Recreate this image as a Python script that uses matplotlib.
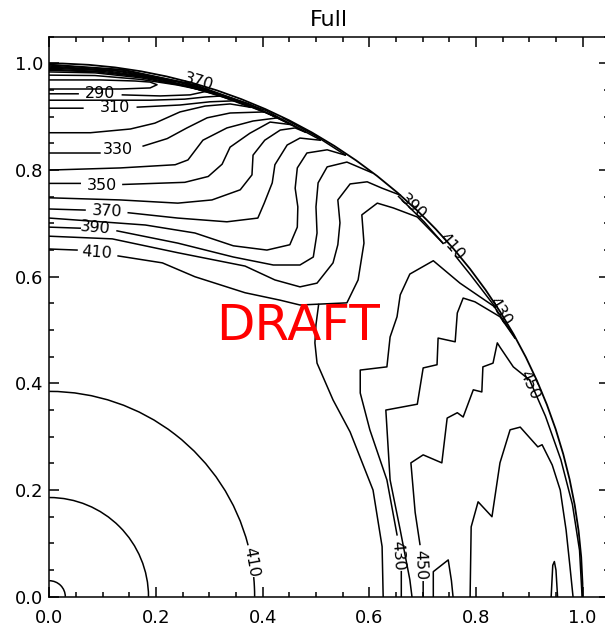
import numpy as np
import matplotlib
matplotlib.use('Agg')
import matplotlib.pyplot as plt
from matplotlib.patches import Arc
from matplotlib.ticker import MultipleLocator, FormatStrFormatter

nan = np.nan

# interior parts of the contour lines (x, y); nan = gap for a label
c280_x = [0, 0.095, 0.161, 0.189, 0.202, 0.189, 0.133, 0.058, 0]
c280_y = [0.969, 0.969, 0.967, 0.965, 0.960, 0.954, 0.952, 0.952, 0.952]
c290_x = [0, 0.054, nan, 0.137, 0.208, 0.264, 0.296]
c290_y = [0.943, 0.943, nan, 0.941, 0.939, 0.941, 0.948]
c300_x = [0, 0.095, 0.189, 0.254, 0.292, 0.324]
c300_y = [0.931, 0.931, 0.931, 0.933, 0.937, 0.939]
c310_x = [0, 0.063, nan, 0.165, 0.245, 0.301, 0.350]
c310_y = [0.916, 0.916, nan, 0.918, 0.922, 0.928, 0.930]
c320_x = [0, 0.077, 0.152, 0.198, 0.245, 0.292, 0.339, 0.376]
c320_y = [0.870, 0.870, 0.877, 0.888, 0.909, 0.920, 0.924, 0.918]
c330_x = [0, 0.095, nan, 0.176, 0.221, 0.258, 0.296, 0.339, 0.403]
c330_y = [0.832, 0.832, nan, 0.845, 0.859, 0.879, 0.898, 0.907, 0.909]
c340_x = [0, 0.133, 0.236, 0.260, 0.288, 0.333, 0.382, 0.429]
c340_y = [0.800, 0.804, 0.810, 0.819, 0.856, 0.879, 0.892, 0.898]
c350_x = [0, 0.058, nan, 0.138, 0.254, 0.298, 0.324, 0.339, 0.376, 0.414, 0.455]
c350_y = [0.775, 0.775, nan, 0.773, 0.777, 0.788, 0.811, 0.843, 0.869, 0.890, 0.885]
c360_x = [0, 0.133, 0.241, 0.305, 0.358, 0.380, 0.382, 0.404, 0.433, 0.461, 0.480]
c360_y = [0.748, 0.744, 0.738, 0.744, 0.763, 0.791, 0.828, 0.856, 0.875, 0.879, 0.871]
c370_x = [0, 0.067, nan, 0.148, 0.241, 0.333, 0.391, 0.403, 0.418, 0.423, 0.446, 0.470, 0.508]
c370_y = [0.727, 0.725, nan, 0.720, 0.710, 0.703, 0.710, 0.738, 0.776, 0.810, 0.847, 0.860, 0.856]
c380_x = [0, 0.180, 0.273, 0.345, 0.408, 0.451, 0.465, 0.466, 0.461, 0.465, 0.483, 0.521, 0.555]
c380_y = [0.710, 0.697, 0.682, 0.658, 0.650, 0.660, 0.693, 0.731, 0.766, 0.804, 0.832, 0.838, 0.828]
c390_x = [0, 0.058, nan, 0.127, 0.241, 0.345, 0.420, 0.470, 0.495, 0.502, 0.500, 0.504, 0.521, 0.558, 0.605]
c390_y = [0.693, 0.691, nan, 0.686, 0.663, 0.637, 0.622, 0.622, 0.637, 0.682, 0.731, 0.776, 0.806, 0.815, 0.795]
c400_x = [0, 0.118, 0.241, 0.367, 0.423, 0.470, 0.502, 0.532, 0.541, 0.545, 0.541, 0.564, 0.596, 0.624, 0.658]
c400_y = [0.676, 0.671, 0.645, 0.620, 0.594, 0.581, 0.588, 0.626, 0.660, 0.701, 0.744, 0.774, 0.778, 0.766, 0.753]
c410_x = [0, 0.052, nan, 0.129, 0.212, 0.273, 0.367, 0.433, 0.470, 0.558, 0.579, 0.590, 0.586, 0.615, 0.645, 0.690, 0.738]
c410_y = [0.652, 0.650, nan, 0.639, 0.626, 0.600, 0.570, 0.556, 0.547, 0.551, 0.594, 0.663, 0.716, 0.738, 0.729, 0.712, 0.663]
# branch of 410 that comes down under the DRAFT text to the axis
c410b_x = [0.626, 0.624, 0.607, 0.564, 0.532, 0.502, 0.498, 0.500, 0.505]
c410b_y = [0, 0.094, 0.200, 0.309, 0.369, 0.438, 0.476, 0.510, 0.548]
c430_x = [0.660, 0.660, nan, 0.652, 0.633, 0.601, 0.583, 0.583, 0.633, 0.639, 0.652, 0.658, 0.676, 0.720, 0.770, 0.808, 0.836]
c430_y = [0, 0.047, nan, 0.116, 0.219, 0.313, 0.382, 0.425, 0.431, 0.487, 0.525, 0.566, 0.605, 0.630, 0.588, 0.562, 0.543]
c440_x = [0.680, 0.676, 0.658, 0.639, 0.631, 0.690, 0.701, 0.727, 0.729, 0.761, 0.765, 0.776, 0.798, 0.845, 0.873]
c440_y = [0, 0.032, 0.125, 0.219, 0.350, 0.361, 0.429, 0.435, 0.485, 0.478, 0.532, 0.560, 0.553, 0.525, 0.485]
c450_x = [0.701, 0.701, nan, 0.695, 0.686, 0.678, 0.701, 0.736, 0.746, 0.765, 0.776, 0.795, 0.811, 0.813, 0.832, 0.840, 0.845, 0.870, 0.901]
c450_y = [0, 0.028, nan, 0.098, 0.158, 0.251, 0.266, 0.251, 0.335, 0.345, 0.337, 0.388, 0.384, 0.431, 0.438, 0.476, 0.468, 0.431, 0.406]
c460_x = [0.789, 0.791, 0.804, 0.830, 0.845, 0.864, 0.883, 0.916, 0.924, 0.943, 0.958, 0.969, 0.976, 0.982]
c460_y = [0, 0.131, 0.178, 0.150, 0.251, 0.313, 0.318, 0.281, 0.285, 0.247, 0.200, 0.125, 0.059, 0]
c460b_x = [0.720, 0.720, 0.748, 0.754, 0.757]
c460b_y = [0, 0.047, 0.069, 0.030, 0]
c470_x = [0.941, 0.944, 0.947, 0.950, 0.953]
c470_y = [0, 0.059, 0.066, 0.050, 0]

# parts that run along the surface: angle (deg) and radius
rim_t = {
    290: [72.7, 76, 80, 85, 90], 300: [71.0, 75, 80, 85, 90], 310: [69.4, 75, 80, 85, 90],
    320: [67.7, 72, 78, 84, 90], 330: [66.1, 72, 78, 84, 90], 340: [64.5, 70, 76, 83, 90],
    350: [62.8, 68, 75, 82, 90], 360: [61.2, 68, 75, 82, 90], 370: [59.4, 66, 74, 82, 90],
    380: [56.2, 60, 64], 410: [41.9, 45, 48.9],
    430: [33.0, 35, 37.4, 40], 440: [29.1, 31, 33], 450: [24.3, 20, 15, 10, 5, 0],
}
rim_r = {
    290: [0.993, 0.989, 0.985, 0.981, 0.978], 300: [0.993, 0.991, 0.988, 0.986, 0.984],
    310: [0.993, 0.992, 0.990, 0.988, 0.987], 320: [0.992, 0.993, 0.992, 0.990, 0.989],
    330: [0.994, 0.994, 0.993, 0.992, 0.991], 340: [0.995, 0.995, 0.995, 0.994, 0.993],
    350: [0.995, 0.996, 0.996, 0.995, 0.995], 360: [0.995, 0.997, 0.997, 0.997, 0.997],
    370: [0.996, 0.998, 0.998, 0.998, 0.998], 380: [0.997, 0.998, 0.999],
    410: [0.992, 0.994, 0.996], 430: [0.997, 0.995, 0.994, 0.994],
    440: [0.999, 0.997, 0.996], 450: [0.988, 0.990, 0.993, 0.996, 0.998, 0.999],
}

# circles round the centre (radius), the 410 one broken for its label
circle_r = [0.030, 0.186]
circle410_r = 0.385

# contour labels: text, x, y, rotation
lab_txt = ['290', '310', '330', '350', '370', '390', '410',
           '370', '390', '410', '430', '450', '410', '430', '450']
lab_x = [0.095, 0.124, 0.129, 0.099, 0.108, 0.086, 0.089,
         0.279, 0.682, 0.755, 0.845, 0.901, 0.379, 0.654, 0.695]
lab_y = [0.943, 0.918, 0.838, 0.772, 0.723, 0.692, 0.645,
         0.966, 0.731, 0.656, 0.534, 0.397, 0.065, 0.076, 0.060]
lab_rot = [0, 0, 0, 0, -3, -5, -4,
           -16, -43, -49, -58, -66, -80, -86, -88]

fig = plt.figure(figsize=(6.05, 6.28), dpi=100)
ax = fig.add_axes([0.0815, 0.0498, 0.9256, 0.8917])

lines = [(c280_x, c280_y), (c290_x, c290_y), (c300_x, c300_y), (c310_x, c310_y),
         (c320_x, c320_y), (c330_x, c330_y), (c340_x, c340_y), (c350_x, c350_y),
         (c360_x, c360_y), (c370_x, c370_y), (c380_x, c380_y), (c390_x, c390_y),
         (c400_x, c400_y), (c410_x, c410_y), (c410b_x, c410b_y), (c430_x, c430_y),
         (c440_x, c440_y), (c450_x, c450_y), (c460_x, c460_y), (c460b_x, c460b_y),
         (c470_x, c470_y)]
for xs, ys in lines:
    ax.plot(xs, ys, color='black', lw=1.1)

for lev in rim_t:
    t = np.radians(rim_t[lev])
    r = np.array(rim_r[lev])
    ax.plot(r * np.cos(t), r * np.sin(t), color='black', lw=1.1)

# surface
ax.add_patch(Arc((0, 0), 2, 2, theta1=0, theta2=90, color='black', lw=1.3))
for r in circle_r:
    ax.add_patch(Arc((0, 0), 2 * r, 2 * r, theta1=0, theta2=90, color='black', lw=1.1))
ax.add_patch(Arc((0, 0), 2 * circle410_r, 2 * circle410_r, theta1=0, theta2=5.5, color='black', lw=1.1))
ax.add_patch(Arc((0, 0), 2 * circle410_r, 2 * circle410_r, theta1=14.5, theta2=90, color='black', lw=1.1))

for t, x, y, rot in zip(lab_txt, lab_x, lab_y, lab_rot):
    ax.text(x, y, t, fontsize=11.5, ha='center', va='center', rotation=rot,
            rotation_mode='anchor')

ax.text(0.467, 0.481, 'DRAFT', color='red', fontsize=36, ha='center', va='baseline', zorder=5)

ax.set_xlim(0, 1.05)
ax.set_ylim(0, 1.05)
ax.xaxis.set_major_locator(MultipleLocator(0.2))
ax.yaxis.set_major_locator(MultipleLocator(0.2))
ax.xaxis.set_minor_locator(MultipleLocator(0.05))
ax.yaxis.set_minor_locator(MultipleLocator(0.05))
ax.xaxis.set_major_formatter(FormatStrFormatter('%.1f'))
ax.yaxis.set_major_formatter(FormatStrFormatter('%.1f'))
ax.tick_params(which='both', direction='in', top=True, right=True, width=1.1)
ax.tick_params(which='major', length=7, labelsize=13)
ax.tick_params(which='minor', length=3.5)
ax.tick_params(axis='x', pad=9)
ax.tick_params(axis='y', pad=4.5)
for s in ax.spines.values():
    s.set_linewidth(1.1)
ax.set_title('Full', fontsize=16, pad=8)

# the lowest y label sits just above its tick in the original
ax.yaxis.get_major_ticks()[0].label1.set_verticalalignment('bottom')

fig.savefig('out.png', dpi=100)
